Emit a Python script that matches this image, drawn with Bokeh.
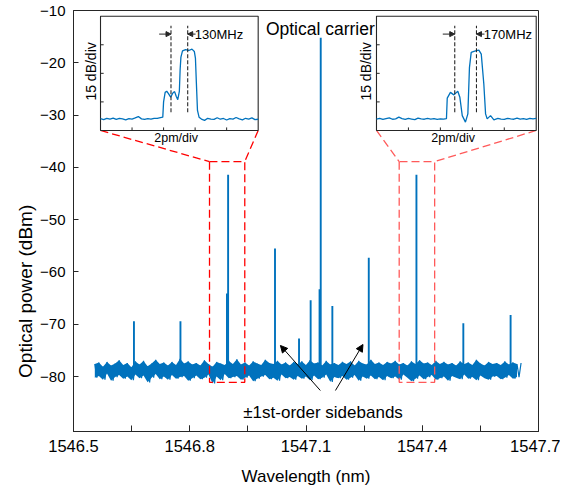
import numpy as np
from bokeh.plotting import figure
from bokeh.layouts import row
from bokeh.models import Range1d, FixedTicker, NumeralTickFormatter, Arrow, NormalHead
from bokeh.core.properties import value
from bokeh.embed import file_html
from bokeh.resources import INLINE

# ---------------- data ----------------
noise_wl_start, noise_wl_end = 1546.555, 1547.655
noise_dbm = [
    -77.6, -80.2, -77.3, -79.9, -78.1, -80.6, -77.2, -79.4, -77.9, -80.8,
    -77.5, -80.1, -76.9, -79.7, -77.8, -80.4, -77.4, -80.0, -78.2, -80.7,
    -77.1, -79.6, -77.7, -80.3, -77.0, -79.8, -78.0, -81.1, -77.5, -80.2,
    -76.8, -79.5, -77.6, -80.5, -77.3, -80.0, -77.9, -80.6, -77.2, -79.7,
    -77.8, -80.4, -76.6, -80.1, -77.5, -79.9, -77.1, -80.8, -77.7, -80.3,
    -77.4, -79.8, -77.9, -80.5, -76.9, -80.2, -77.6, -79.6, -78.1, -81.3,
    -77.2, -80.0, -77.5, -80.7, -77.8, -79.5, -77.0, -80.3, -77.6, -80.1,
    -76.7, -79.9, -77.7, -80.6, -77.3, -80.2, -77.9, -79.8, -77.1, -80.9,
    -77.5, -80.4, -77.8, -80.0, -76.8, -79.7, -77.4, -80.5, -77.6, -80.2,
    -77.0, -80.8, -77.7, -79.6, -77.3, -80.3, -77.9, -80.1, -77.2, -80.6,
    -77.6, -79.9, -77.1, -80.4, -77.8, -80.0, -76.9, -80.7, -77.5, -79.8,
    -77.3, -80.5, -77.9, -80.2, -77.0, -79.6, -77.7, -81.0, -77.4, -80.1,
    -77.8, -80.3, -77.2, -79.9, -77.6, -80.6, -77.1, -80.2, -77.9, -79.7,
    -77.0, -80.8, -77.5, -80.0, -77.7, -80.4, -76.8, -79.8, -77.6, -80.5,
    -77.3, -80.1, -77.8, -80.7, -77.2, -79.9, -77.5, -80.3, -77.0, -80.0,
    -77.7, -80.6, -77.4, -79.6, -77.9, -80.2, -77.1, -80.9, -77.6, -80.4,
    -76.9, -79.8, -77.5, -80.5, -77.3, -80.1, -77.8, -79.7, -77.0, -80.6,
    -77.6, -80.3, -77.2, -80.0, -77.7, -80.8, -77.4, -79.9, -77.9, -80.2,
    -77.1, -80.5, -77.6, -79.6, -77.3, -80.4, -77.8, -80.1, -76.8, -80.7,
    -77.5, -79.8, -77.9, -80.3, -77.2, -80.6, -77.6, -80.0, -77.4, -79.9,
    -77.8, -80.5, -77.1, -80.2, -77.7, -79.7, -77.3, -80.4, -77.6, -80.1,
    -77.4,
]
peak_wl = [1546.656, 1546.776, 1546.896, 1546.899, 1547.020, 1547.082, 1547.112,
           1547.135, 1547.138, 1547.168, 1547.262, 1547.385, 1547.506, 1547.628]
peak_dbm = [-69.4, -69.4, -64.1, -41.4, -55.5, -72.7, -65.4,
            -63.3, -15.2, -66.5, -57.3, -41.4, -69.8, -68.2]
floor_dbm = -78.5

x_ticks = [1546.5, 1546.8, 1547.1, 1547.4, 1547.7]
x_minor_ticks = [1546.5, 1546.65, 1546.8, 1546.95, 1547.1, 1547.25, 1547.4, 1547.55, 1547.7]
y_ticks = [-80, -70, -60, -50, -40, -30, -20, -10]

zoom_box_wl = [(1546.851, 1546.942), (1547.3405, 1547.432)]
zoom_box_dbm = (-81.1, -38.9)

# insets (x in pm, y in dB)
inset1_pm = [0, 0.2, 0.4, 0.6, 0.8, 1.0, 1.2, 1.4, 1.6, 1.8, 2.0, 2.2, 2.4, 2.6, 2.8, 3.0,
             3.2, 3.4, 3.6, 3.8, 3.95, 4.0, 4.1, 4.2, 4.3, 4.45, 4.6, 4.7, 4.8, 4.9, 5.0,
             5.05, 5.1, 5.2, 5.4, 5.6, 5.8, 5.95, 6.02, 6.08, 6.15, 6.25, 6.4, 6.6, 6.8,
             7.0, 7.2, 7.4, 7.6, 7.8, 8.0, 8.2, 8.4, 8.6, 8.8, 9.0, 9.2, 9.4, 9.6, 9.8, 10.0]
inset1_db = [6.2, 5.7, 6.4, 6.0, 6.5, 5.8, 6.3, 6.1, 5.6, 6.2, 6.0, 6.6, 7.3, 6.1, 5.8, 6.2,
             6.0, 6.4, 6.3, 6.7, 7.0, 15.0, 20.0, 20.6, 19.5, 17.5, 19.8, 20.4, 18.0, 16.2, 20.5,
             32.0, 38.5, 41.8, 42.5, 42.0, 42.7, 41.5, 38.0, 25.0, 10.5, 7.0, 6.0, 5.3, 6.4,
             6.0, 5.8, 6.7, 5.9, 6.3, 5.5, 6.2, 6.0, 6.8, 6.1, 5.6, 6.4, 6.0, 6.6, 5.7, 5.9]
inset2_pm = [0, 0.2, 0.4, 0.6, 0.8, 1.0, 1.2, 1.4, 1.6, 1.8, 2.0, 2.2, 2.4, 2.6, 2.8, 3.0,
             3.2, 3.4, 3.6, 3.8, 4.0, 4.2, 4.38, 4.43, 4.63, 4.84, 5.09, 5.22, 5.37, 5.57,
             5.72, 5.82, 5.93, 6.1, 6.26, 6.41, 6.56, 6.72, 6.83, 6.93, 7.14, 7.35, 7.6, 7.8,
             8.0, 8.2, 8.4, 8.6, 8.8, 9.0, 9.2, 9.4, 9.6, 9.8, 10.0]
inset2_db = [6.0, 6.4, 5.8, 6.2, 6.6, 5.9, 6.1, 7.0, 6.2, 5.8, 6.3, 6.0, 5.7, 6.5, 6.1, 5.9,
             6.3, 6.0, 6.2, 5.8, 6.1, 6.0, 6.2, 17.0, 20.0, 18.7, 20.6, 17.4, 7.8, 4.4,
             8.7, 33.0, 41.0, 41.5, 41.9, 42.2, 40.1, 24.4, 8.7, 6.1, 7.8, 5.6, 6.3, 6.0,
             5.8, 6.4, 6.1, 5.9, 6.5, 6.0, 6.2, 5.8, 6.4, 6.1, 6.3]
inset_marker_pm = [(4.47, 5.53), (4.9, 6.26)]
inset_labels = ["130MHz", "170MHz"]
inset_x_ticks = [2, 4, 6, 8]
inset_y_ticks = [15, 30, 45]

# ---------------- layout constants ----------------
X0, X1 = 1546.5, 1547.7
Y0, Y1 = -90.5, -10.0
inset_boxes = [(1546.5697, 1546.9766), (1547.2819, 1547.6941)]
inset_box_dbm = (-32.94, -11.09)
INSET_W, INSET_H = 10.0, 60.0
TITLE_W = 37          # width of the strip that carries the y title
YTITLE_POS = (25, -63.7)

BLUE = "#0072BD"
AX = "#262626"
FONT = "Liberation Sans"
H = 490
B_TOP, B_BOTTOM = 10, 59

# strip with the y-axis title
t = figure(width=TITLE_W, height=H, x_range=Range1d(0, TITLE_W), y_range=Range1d(Y0, Y1),
           output_backend="svg", toolbar_location=None, min_border_left=0,
           min_border_right=0, min_border_top=B_TOP, min_border_bottom=B_BOTTOM)
t.axis.visible = False
t.grid.visible = False
t.outline_line_color = None
t.text(x=[YTITLE_POS[0]], y=[YTITLE_POS[1]], text=["Optical power (dBm)"],
       text_font=value(FONT), text_font_size="19px", text_align="center",
       text_baseline="middle", angle=np.pi / 2, text_color="black")

p = figure(width=560 - TITLE_W, height=H, x_range=Range1d(X0, X1), y_range=Range1d(Y0, Y1),
           output_backend="svg", toolbar_location=None,
           min_border_left=73 - TITLE_W, min_border_right=22, min_border_top=B_TOP,
           min_border_bottom=B_BOTTOM)
p.background_fill_color = "white"
p.border_fill_color = "white"
p.grid.visible = False
p.outline_line_color = AX
p.outline_line_width = 1

# axes
p.xaxis.ticker = FixedTicker(ticks=x_ticks, minor_ticks=x_minor_ticks)
p.xaxis.formatter = NumeralTickFormatter(format="0.0")
p.yaxis.ticker = FixedTicker(ticks=y_ticks, minor_ticks=[])
for ax in (p.xaxis, p.yaxis):
    ax.axis_line_color = AX
    ax.major_tick_line_color = AX
    ax.minor_tick_line_color = AX
    ax.major_tick_out = 0
    ax.minor_tick_out = 0
    ax.major_label_text_font = FONT
    ax.major_label_text_color = "black"
    ax.axis_label_text_font = FONT
    ax.axis_label_text_font_style = "normal"
    ax.axis_label_text_color = "black"
p.xaxis.major_tick_in = 6
p.xaxis.minor_tick_in = 6
p.yaxis.major_tick_in = 5
p.yaxis.minor_tick_in = 0
p.xaxis.major_label_text_font_size = "16.5px"
p.yaxis.major_label_text_font_size = "15px"
p.xaxis.major_label_standoff = 8
p.yaxis.major_label_standoff = 8
p.xaxis.axis_label = "Wavelength (nm)"
p.xaxis.axis_label_text_font_size = "17px"
p.xaxis.axis_label_standoff = 12

# spectrum: noise floor band + trace, then the spectral lines
noise_wl = np.linspace(noise_wl_start, noise_wl_end, len(noise_dbm))
noise_hi = noise_dbm[0::2]
noise_lo = noise_dbm[1::2]
n_band = min(len(noise_hi), len(noise_lo))
p.varea(x=noise_wl[0::2][:n_band], y1=noise_lo[:n_band], y2=noise_hi[:n_band],
        fill_color=BLUE)
p.line(noise_wl, noise_dbm, line_color=BLUE, line_width=1.2)
p.segment(x0=peak_wl, y0=[floor_dbm] * len(peak_wl), x1=peak_wl, y1=peak_dbm,
          line_color=BLUE, line_width=1.9)

# zoom rectangles and connectors
red_cols = ["#FF0000", "#FF5A5A"]
for (w0, w1), (bx0, bx1), rc in zip(zoom_box_wl, inset_boxes, red_cols):
    p.line([w0, w0, w1, w1, w0], [zoom_box_dbm[1], zoom_box_dbm[0], zoom_box_dbm[0],
                                  zoom_box_dbm[1], zoom_box_dbm[1]],
           line_color=rc, line_dash="8 4", line_width=1.3)
    p.segment(x0=[bx0, bx1], y0=[inset_box_dbm[0]] * 2, x1=[w0, w1], y1=[zoom_box_dbm[1]] * 2,
              line_color=rc, line_dash="8 4", line_width=1.3)

# annotations
p.text(x=[1547.137], y=[-13.45], text=["Optical carrier"], text_font=value(FONT),
       text_font_size="17.5px", text_align="center", text_baseline="alphabetic",
       text_color="black")
p.text(x=[1547.144], y=[-86.8], text=["\u00b11st-order sidebands"], text_font=value(FONT),
       text_font_size="17px", text_align="center", text_baseline="alphabetic",
       text_color="black")
for xs, ys, xe, ye in [(1547.137, -82.66, 1547.034, -74.05), (1547.176, -82.66, 1547.247, -73.86)]:
    p.add_layout(Arrow(x_start=xs, y_start=ys, x_end=xe, y_end=ye, line_color="black",
                       line_width=1,
                       end=NormalHead(size=7, fill_color="black", line_color="black")))

# insets
insets = [(inset1_pm, inset1_db), (inset2_pm, inset2_db)]
for i, ((bx0, bx1), (xs_, ys_), (m0, m1), lab) in enumerate(
        zip(inset_boxes, insets, inset_marker_pm, inset_labels)):
    by0, by1 = inset_box_dbm
    sx = INSET_W / (bx1 - bx0)
    sy = INSET_H / (by1 - by0)
    xr, yr = f"ix{i}", f"iy{i}"
    p.extra_x_ranges[xr] = Range1d(0 - (bx0 - X0) * sx, INSET_W + (X1 - bx1) * sx)
    p.extra_y_ranges[yr] = Range1d(0 - (by0 - Y0) * sy, INSET_H + (Y1 - by1) * sy)
    kw = dict(x_range_name=xr, y_range_name=yr)
    p.quad(left=[0], right=[INSET_W], bottom=[0], top=[INSET_H], fill_color="white",
           line_color=AX, line_width=1.1, **kw)
    p.segment(x0=inset_x_ticks, y0=[0] * 4, x1=inset_x_ticks, y1=[1.6] * 4,
              line_color=AX, line_width=1, **kw)
    p.segment(x0=[0] * 3, y0=inset_y_ticks, x1=[0.2] * 3, y1=inset_y_ticks,
              line_color=AX, line_width=1, **kw)
    p.line(xs_, ys_, line_color=BLUE, line_width=1.3, **kw)
    p.segment(x0=[m0, m1], y0=[9.6, 9.6], x1=[m0, m1], y1=[55, 55], line_color=AX,
              line_dash="4 2", line_width=1.1, **kw)
    p.add_layout(Arrow(x_start=m0 - 0.75, y_start=50.6, x_end=m0, y_end=50.6,
                       line_color=AX, line_width=1,
                       end=NormalHead(size=5, fill_color=AX, line_color=AX), **kw))
    p.add_layout(Arrow(x_start=m1 + 0.5, y_start=50.6, x_end=m1, y_end=50.6,
                       line_color=AX, line_width=1,
                       end=NormalHead(size=5, fill_color=AX, line_color=AX), **kw))
    p.text(x=[m1 + 0.45], y=[50.6], text=[lab], text_font=value(FONT), text_font_size="13px",
           text_align="left", text_baseline="middle", text_color="black", **kw)
    p.text(x=[-0.63], y=[31], text=["15 dB/div"], text_font=value(FONT), text_font_size="14px",
           text_align="center", text_baseline="middle", angle=np.pi / 2,
           text_color="black", **kw)
    p.text(x=[4.8], y=[-3.8], text=["2pm/div"], text_font=value(FONT), text_font_size="12.5px",
           text_align="center", text_baseline="middle", text_color="black", **kw)

layout = row(t, p)
open("out.html", "w").write(file_html(layout, INLINE))
